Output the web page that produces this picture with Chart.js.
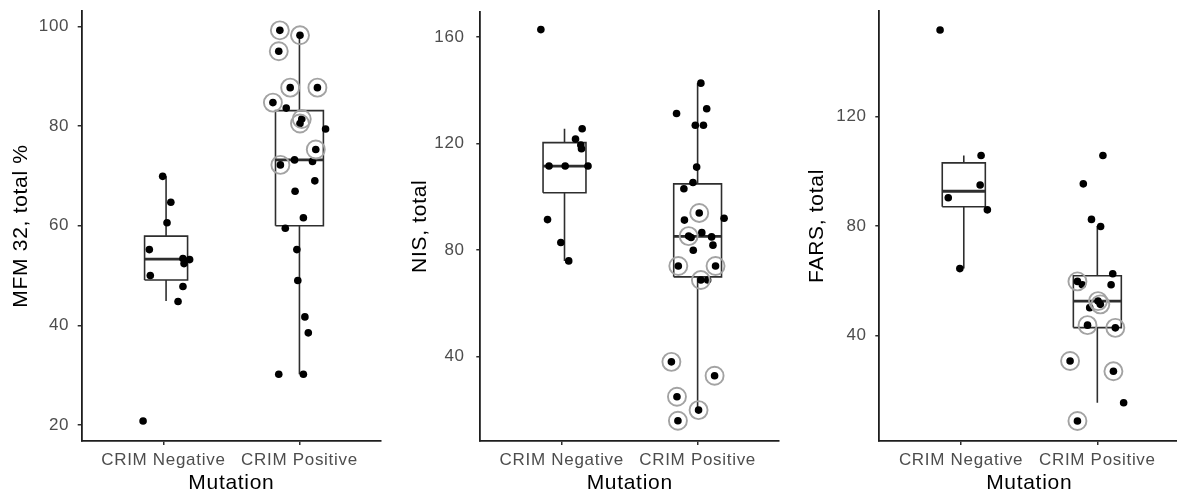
<!DOCTYPE html>
<html><head><meta charset="utf-8">
<script src="https://cdn.jsdelivr.net/npm/chart.js@4.4.1/dist/chart.umd.min.js"></script>
<style>
html,body{margin:0;padding:0;background:#fff;width:1177px;height:496px;overflow:hidden;position:relative}
.p{position:absolute;top:0;height:496px}
</style></head><body>
<div class="p" style="left:0;width:392px"><canvas id="c1"></canvas></div>
<div class="p" style="left:390px;width:400px"><canvas id="c2"></canvas></div>
<div class="p" style="left:780px;width:410px"><canvas id="c3"></canvas></div>
<script>
// ---------- data ----------
const categories = ['CRIM Negative', 'CRIM Positive'];
const xTitle = 'Mutation';

// MFM 32
const mfmTitle = 'MFM 32, total %';
const mfmTicks = [20, 40, 60, 80, 100];
const mfmNegValues = [69.9, 64.7, 60.6, 55.2, 50.0, 53.4, 53.2, 52.4, 47.8, 44.8, 20.8];
const mfmNegJitter = [-0.005, 0.055, 0.027, -0.103, -0.096, 0.144, 0.193, 0.152, 0.144, 0.108, -0.149];
const mfmPosValues = [99.2, 98.2, 95.0, 87.7, 87.7, 84.7, 81.4, 80.5, 75.3, 72.2, 83.6, 79.4, 73.2, 72.9, 69.0, 66.9, 61.6, 59.5, 55.2, 49.0, 41.7, 38.5, 30.2, 30.2];
const mfmPosJitter = [-0.144, 0.004, -0.152, -0.068, 0.132, -0.195, 0.017, 0.004, 0.12, -0.14, -0.097, 0.192, -0.036, 0.096, 0.113, -0.032, 0.029, -0.104, -0.019, -0.012, 0.04, 0.065, -0.152, 0.029];
const mfmPosRinged = [1,1,1,1,1,1,1,1,1,1,0,0,0,0,0,0,0,0,0,0,0,0,0,0];
const mfmBoxNeg = [44.9, 49.1, 53.3, 57.9, 69.9];   // lo, q1, median, q3, hi
const mfmBoxPos = [30.2, 60.0, 73.2, 83.1, 98.3];

// NIS
const nisTitle = 'NIS, total';
const nisTicks = [40, 80, 120, 160];
const nisNegValues = [162.8, 125.6, 121.7, 119.5, 118.1, 111.6, 111.6, 111.6, 91.5, 82.9, 76.0];
const nisNegJitter = [-0.154, 0.15, 0.101, 0.14, 0.145, -0.094, 0.025, 0.193, -0.105, -0.007, 0.051];
const nisPosValues = [142.7, 133.1, 131.3, 126.9, 126.9, 111.2, 105.4, 103.1, 92.0, 91.3, 86.6, 85.0, 84.8, 81.9, 80.0, 68.8, 94.0, 85.3, 74.1, 74.1, 68.8, 38.1, 32.9, 25.0, 20.0, 16.0];
const nisPosJitter = [0.024, 0.067, -0.155, -0.017, 0.043, -0.007, -0.034, -0.101, 0.195, -0.097, 0.031, 0.103, -0.048, 0.113, -0.032, 0.074, 0.012, -0.066, -0.142, 0.132, 0.024, -0.193, 0.125, -0.152, 0.007, -0.145];
const nisPosRinged = [0,0,0,0,0,0,0,0,0,0,0,0,0,0,0,0,1,1,1,1,1,1,1,1,1,1];
const nisBoxNeg = [76.0, 101.6, 111.6, 120.4, 125.6];
const nisBoxPos = [20.0, 70.0, 85.2, 104.9, 142.7];

// FARS
const farsTitle = 'FARS, total';
const farsTicks = [40, 80, 120];
const farsNegValues = [151.7, 105.8, 95.0, 90.3, 85.9, 64.4];
const farsNegJitter = [-0.154, 0.147, 0.14, -0.094, 0.193, -0.009];
const farsPosValues = [105.8, 95.4, 82.4, 79.8, 62.5, 58.5, 58.5, 50.1, 15.3, 59.7, 52.5, 51.3, 43.7, 42.7, 30.6, 26.8, 8.6];
const farsPosJitter = [0.041, -0.103, -0.043, 0.024, 0.113, -0.11, 0.101, -0.056, 0.193, -0.146, 0.005, 0.022, -0.072, 0.132, -0.2, 0.118, -0.146];
const farsPosRinged = [0,0,0,0,0,0,0,0,0,1,1,1,1,1,1,1,1];
const farsBoxNeg = [64.4, 87.0, 92.7, 103.1, 105.8];
const farsBoxPos = [15.3, 42.8, 52.5, 61.8, 80.0];

// ---------- style ----------
const FONT = "'Liberation Sans', Arial, sans-serif";
Chart.defaults.font.family = FONT;
const LINE = '#2e2e2e';
const BOX_HALF = [0.158, 0.176];
const BOX_SHIFT = [0.02, 0];

const spacing = {
  id: 'spacing',
  beforeLayout(c) { c.ctx.letterSpacing = '0.7px'; },
  beforeDraw(c) { c.ctx.letterSpacing = '0.7px'; }
};

function boxSets(stats, idx) {
  const c = idx + 1 + BOX_SHIFT[idx], h = BOX_HALF[idx];
  const [lo, q1, med, q3, hi] = stats;
  const base = { type: 'scatter', showLine: true, pointRadius: 0, borderColor: LINE, fill: false, tension: 0, borderCapStyle: 'butt' };
  return [
    Object.assign({}, base, { borderWidth: 2.8, data: [{x: c - h, y: med}, {x: c + h, y: med}] }),
    Object.assign({}, base, { borderWidth: 1.6, borderJoinStyle: 'miter', data: [{x: c - h, y: q1}, {x: c + h, y: q1}, {x: c + h, y: q3}, {x: c - h, y: q3}, {x: c - h, y: q1}] }),
    Object.assign({}, base, { borderWidth: 1.6, data: [{x: c, y: q3}, {x: c, y: hi}] }),
    Object.assign({}, base, { borderWidth: 1.6, data: [{x: c, y: lo}, {x: c, y: q1}] })
  ];
}

function makeChart(id, p) {
  const negPts = p.negV.map((v, i) => ({x: 1 + p.negJ[i], y: v}));
  const posPts = p.posV.map((v, i) => ({x: 2 + p.posJ[i], y: v}));
  const ringPts = posPts.filter((pt, i) => p.ring[i]);
  const datasets = [
    { type: 'scatter', data: ringPts, pointRadius: 9, pointBackgroundColor: 'rgba(0,0,0,0)', pointBorderColor: '#a3a3a3', pointBorderWidth: 1.9, showLine: false },
    { type: 'scatter', data: negPts.concat(posPts), pointRadius: 3.8, pointBackgroundColor: '#000', pointBorderWidth: 0, showLine: false },
    ...boxSets(p.boxNeg, 0),
    ...boxSets(p.boxPos, 1)
  ];
  const tickFont = { family: FONT, size: 17 };
  const titleFont = { family: FONT, size: 21 };
  const grid = { display: true, drawOnChartArea: false, drawTicks: true, tickLength: 4, color: LINE, lineWidth: 1.5 };
  const border = { display: true, color: '#1e1e1e', width: 1.8 };
  return new Chart(document.getElementById(id), {
    type: 'scatter',
    data: { datasets },
    plugins: [spacing],
    options: {
      responsive: true, maintainAspectRatio: false, animation: false, devicePixelRatio: 1,
      events: [],
      layout: { padding: { top: p.top, right: p.right, bottom: 0, left: 0 } },
      plugins: { legend: { display: false }, tooltip: { enabled: false } },
      scales: {
        x: {
          type: 'linear', min: 0.4, max: 2.6,
          afterBuildTicks: s => { s.ticks = categories.map((c, i) => ({ value: i + 1 })); },
          ticks: { callback: v => categories[v - 1], font: tickFont, color: '#4d4d4d', padding: 5, maxRotation: 0, autoSkip: false },
          grid, border,
          title: { display: true, text: xTitle, font: titleFont, color: '#000', padding: { top: 0, bottom: 0 } },
          afterFit: s => { s.height = 55; s.paddingLeft = 0; s.paddingRight = 0; }
        },
        y: {
          type: 'linear', min: p.ymin, max: p.ymax,
          afterBuildTicks: s => { s.ticks = p.ticks.map(v => ({ value: v })); },
          ticks: { font: tickFont, color: '#4d4d4d', padding: p.tpad },
          grid, border,
          title: { display: true, text: p.title, font: titleFont, color: '#000', padding: { top: p.titlePad, bottom: 0 } },
          afterFit: s => { s.width = p.yw; s.paddingTop = 0; s.paddingBottom = 0; }
        }
      }
    }
  });
}

makeChart('c1', { negV: mfmNegValues, negJ: mfmNegJitter, posV: mfmPosValues, posJ: mfmPosJitter, ring: mfmPosRinged,
  boxNeg: mfmBoxNeg, boxPos: mfmBoxPos, ticks: mfmTicks, title: mfmTitle,
  ymin: 16.8, ymax: 103.1, top: 10, right: 5.3, yw: 81.7, tpad: 8.5, titlePad: 8.4 });
makeChart('c2', { negV: nisNegValues, negJ: nisNegJitter, posV: nisPosValues, posJ: nisPosJitter, ring: nisPosRinged,
  boxNeg: nisBoxNeg, boxPos: nisBoxPos, ticks: nisTicks, title: nisTitle,
  ymin: 8.4, ymax: 169.6, top: 11.5, right: 5.5, yw: 90.3, tpad: 11.6, titlePad: 17.4 });
makeChart('c3', { negV: farsNegValues, negJ: farsNegJitter, posV: farsPosValues, posJ: farsPosJitter, ring: farsPosRinged,
  boxNeg: farsBoxNeg, boxPos: farsBoxPos, ticks: farsTicks, title: farsTitle,
  ymin: 1.3, ymax: 158.7, top: 10, right: 5.8, yw: 99.3, tpad: 8.6, titlePad: 24.9 });
</script>
</body></html>
